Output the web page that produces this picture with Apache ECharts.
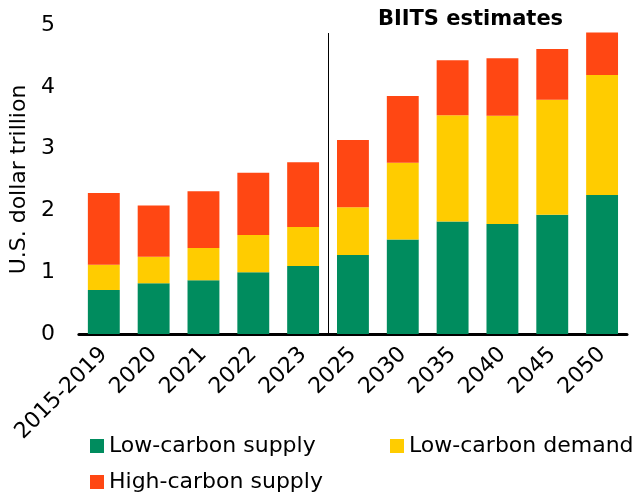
<!DOCTYPE html>
<html>
<head>
<meta charset="utf-8">
<script src="https://cdn.jsdelivr.net/npm/echarts@6/dist/echarts.min.js"></script>
<style>
  html, body { margin: 0; padding: 0; background: #fff; }
  #chart { width: 638px; height: 496px; }
</style>
</head>
<body>
<div id="chart"></div>
<script>
// categories and stacked values (U.S. dollar trillion)
var years = ['2015-2019', '2020', '2021', '2022', '2023', '2025', '2030', '2035', '2040', '2045', '2050'];
var lowSupply  = [0.71, 0.82, 0.87, 1.00, 1.10, 1.28, 1.53, 1.82, 1.78, 1.93, 2.25];
var lowDemand  = [0.41, 0.43, 0.52, 0.60, 0.63, 0.77, 1.24, 1.72, 1.75, 1.86, 1.94];
var highSupply = [1.16, 0.83, 0.92, 1.01, 1.05, 1.09, 1.08, 0.89, 0.93, 0.82, 0.69];
var yTicks = [0, 1, 2, 3, 4, 5];

var font = 'DejaVu Sans';
var chart = echarts.init(document.getElementById('chart'));

function barSeries(name, data, color) {
  return {
    name: name,
    type: 'bar',
    stack: 'total',
    data: data,
    barWidth: '64%',
    itemStyle: { color: color },
    emphasis: { disabled: true }
  };
}

// one legend block per item, laid out in two columns
function legendAt(left, top, name) {
  return {
    left: left, top: top,
    itemWidth: 14, itemHeight: 14,
    icon: 'rect',
    textStyle: { fontSize: 22, color: '#000', fontFamily: font },
    data: [name]
  };
}

chart.setOption({
  animation: false,
  textStyle: { fontFamily: font },
  grid: { left: 78, right: 11, top: 25, bottom: 162 },
  legend: [
    legendAt(85, 430, 'Low-carbon supply'),
    legendAt(385, 430, 'Low-carbon demand'),
    legendAt(85, 466, 'High-carbon supply')
  ],
  xAxis: {
    type: 'category',
    data: years,
    axisLine: { lineStyle: { color: '#000', width: 3 } },
    axisTick: { show: false },
    axisLabel: { rotate: 45, fontSize: 22, color: '#000', margin: 17, interval: 0 }
  },
  yAxis: {
    type: 'value',
    min: yTicks[0],
    max: yTicks[yTicks.length - 1],
    interval: 1,
    name: 'U.S. dollar trillion',
    nameLocation: 'middle',
    nameGap: 43,
    nameTextStyle: { fontSize: 22, color: '#000' },
    axisLine: { show: false },
    axisTick: { show: false },
    splitLine: { show: false },
    axisLabel: { fontSize: 22, color: '#000', margin: 24 }
  },
  series: [
    barSeries('Low-carbon supply', lowSupply, '#008c5e'),
    barSeries('Low-carbon demand', lowDemand, '#ffcc00'),
    barSeries('High-carbon supply', highSupply, '#ff4713')
  ]
});

// divider between history and estimates, placed through the axis scales
var xa = chart.convertToPixel({ xAxisIndex: 0 }, '2023');
var xb = chart.convertToPixel({ xAxisIndex: 0 }, '2025');
var xDiv = Math.round((xa + xb) / 2) + 0.5;
var yTop = chart.convertToPixel({ yAxisIndex: 0 }, 4.87);
var yBot = chart.convertToPixel({ yAxisIndex: 0 }, 0);
var xFirst = chart.convertToPixel({ xAxisIndex: 0 }, '2025');
var xLast = chart.convertToPixel({ xAxisIndex: 0 }, '2050');

chart.setOption({
  graphic: [{
    type: 'line',
    shape: { x1: xDiv, y1: yTop, x2: xDiv, y2: yBot },
    style: { stroke: '#000', lineWidth: 1 },
    z: 10
  }, {
    type: 'text',
    x: (xFirst + xLast) / 2 - 7,
    y: 9,
    style: {
      text: 'BIITS estimates',
      font: 'bold 21px ' + font,
      fill: '#000',
      textAlign: 'center'
    }
  }]
});
</script>
</body>
</html>
